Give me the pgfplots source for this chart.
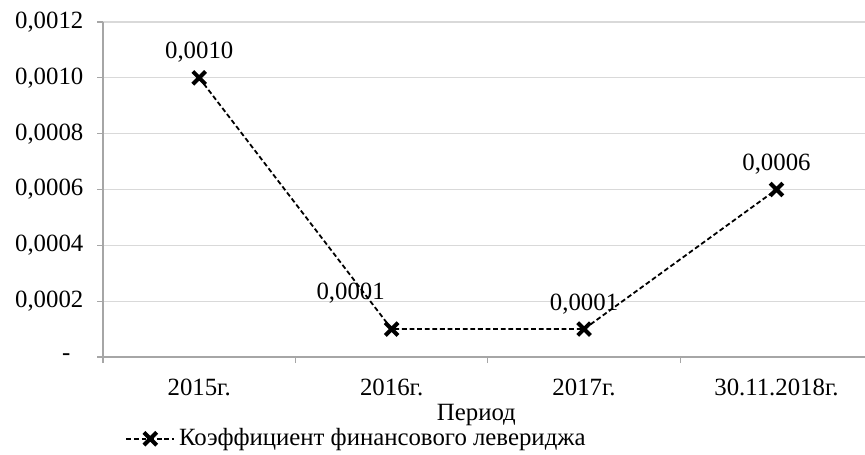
\documentclass[border=0pt]{standalone}
\usepackage{fontspec}
\setmainfont{Liberation Serif}
\usepackage{pgfplots}
\pgfplotsset{compat=1.18}
\usetikzlibrary{calc}
\definecolor{axgray}{HTML}{A6A6A6}
\definecolor{gridgray}{HTML}{D9D9D9}
\newcommand{\fs}{\fontsize{12.4}{14}\selectfont}
\begin{document}
\fs
\begin{tikzpicture}
\begin{axis}[
  name=ax,
  width=381pt, height=167.5pt, scale only axis,
  xmin=-0.5, xmax=3.46,
  ymin=0, ymax=0.0012,
  scaled y ticks=false,
  axis x line*=bottom, axis y line*=left,
  axis line style={draw=axgray, line width=0.6pt, -},
  tick style={draw=axgray, line width=0.6pt},
  tick align=outside,
  major tick length=3pt,
  xtick={-0.5,0.5,1.5,2.5},
  xticklabels={},
  extra x ticks={0,1,2,3},
  extra x tick labels={2015г., 2016г., 2017г., 30.11.2018г.},
  extra x tick style={major tick length=0pt, xticklabel style={yshift=-6.5pt}},
  ytick={0,0.0002,0.0004,0.0006,0.0008,0.001,0.0012},
  yticklabels={{-\hspace*{6.5pt}},{0,0002},{0,0004},{0,0006},{0,0008},{0,0010},{0,0012}},
  yticklabel style={xshift=-2.5pt},
  ymajorgrids, grid style={draw=gridgray, line width=0.6pt},
  ticklabel style={font=\fs},
  xlabel={Период},
  xlabel style={at={(rel axis cs:0.49,-0.174)}, anchor=center, font=\fs},
  legend style={draw=none, fill=none, at={(0.334,-0.244)}, anchor=center, font=\fs, inner sep=0pt},
  legend image code/.code={\draw[mark repeat=2,mark phase=2] plot coordinates {(0cm,0cm)(0.42cm,0cm)(0.84cm,0cm)};},
  clip=false,
]
\addplot[black, dash pattern=on 2.4pt off 1.4pt, line width=0.9pt,
  mark=x, mark size=4.5pt, mark options={solid, line width=2pt},
  nodes near coords, point meta=explicit symbolic,
  every node near coord/.append style={anchor=base, yshift=9.5pt, font=\fs, black}]
  coordinates {(0,0.0010)[0,0010] (1,0.0001)[] (2,0.0001)[0,0001] (3,0.0006)[0,0006]};
\addlegendentry{Коэффициент финансового левериджа}
\addplot[draw=none, mark=none, forget plot,
  nodes near coords, point meta=explicit symbolic,
  every node near coord/.append style={anchor=base, xshift=-20.5pt, yshift=15pt, font=\fs, black}]
  coordinates {(1,0.0001)[0,0001]};
\end{axis}
\pgfresetboundingbox
\path[use as bounding box] ($(ax.south west)+(-51.5pt,-48.5pt)$) rectangle ($(ax.north east)+(0pt,11pt)$);
\end{tikzpicture}
\end{document}
